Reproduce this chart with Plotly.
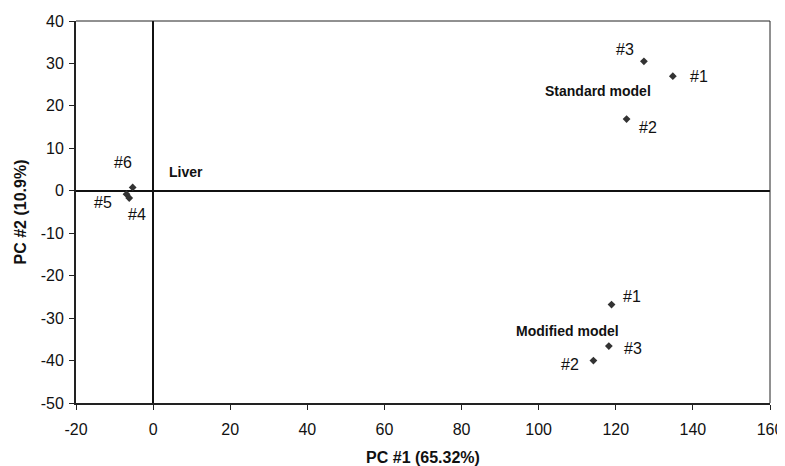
import plotly.graph_objects as go

# Data
std_x = [134.8, 122.8, 127.3]
std_y = [27.0, 16.9, 30.5]
std_lab = ["#1", "#2", "#3"]

mod_x = [118.9, 114.2, 118.2]
mod_y = [-26.8, -40.0, -36.6]
mod_lab = ["#1", "#2", "#3"]

liv_x = [-6.2, -6.9, -5.3]
liv_y = [-1.7, -0.8, 0.8]
liv_lab = ["#4", "#5", "#6"]

group_names = ["Standard model", "Modified model", "Liver"]
group_x = [115.4, 107.6, 8.5]
group_y = [23.5, -33.0, 4.4]

x_ticks = [-20, 0, 20, 40, 60, 80, 100, 120, 140, 160]
y_ticks = [-50, -40, -30, -20, -10, 0, 10, 20, 30, 40]

# label offsets in pixels (style)
std_off = [(26, 0), (21, -8), (-19, 12)]
mod_off = [(20, 8), (-23, -4), (24, -2)]
liv_off = [(8, -17), (-24, -8), (-10, 25)]

FONT = "Liberation Sans, Arial, sans-serif"
MC = "#333333"

fig = go.Figure()
for xs, ys in [(std_x, std_y), (mod_x, mod_y), (liv_x, liv_y)]:
    fig.add_trace(go.Scatter(x=xs, y=ys, mode="markers",
                             marker=dict(symbol="diamond", size=6, color=MC),
                             showlegend=False, hoverinfo="skip"))

annots = []
for xs, ys, labs, offs in [(std_x, std_y, std_lab, std_off),
                           (mod_x, mod_y, mod_lab, mod_off),
                           (liv_x, liv_y, liv_lab, liv_off)]:
    for x, y, t, (dx, dy) in zip(xs, ys, labs, offs):
        annots.append(dict(x=x, y=y, text=t, showarrow=False, xshift=dx, yshift=dy,
                           font=dict(family=FONT, size=16, color="#111")))
for t, x, y in zip(group_names, group_x, group_y):
    annots.append(dict(x=x, y=y, text="<b>" + t + "</b>", showarrow=False,
                       font=dict(family=FONT, size=14, color="#111")))

fig.update_layout(
    width=777, height=458,
    margin=dict(l=68, r=15, t=13, b=63),
    paper_bgcolor="white", plot_bgcolor="white",
    font=dict(family=FONT, size=16, color="#111"),
    annotations=annots,
    shapes=[
        dict(type="line", xref="paper", yref="paper", x0=0, x1=1, y0=1, y1=1,
             line=dict(color="#222", width=1)),
        dict(type="line", xref="paper", yref="paper", x0=1, x1=1, y0=0, y1=1,
             line=dict(color="#222", width=1)),
    ],
)
fig.update_xaxes(range=[-20, 160], tickvals=x_ticks, ticktext=[str(v) for v in x_ticks],
                 automargin=False,
                 showgrid=False, zeroline=True, zerolinecolor="#111", zerolinewidth=1.5,
                 showline=True, linecolor="#222", linewidth=2,
                 ticks="outside", ticklen=5, tickcolor="#222", ticklabelstandoff=6,
                 tickfont=dict(family=FONT, size=16, color="#111"),
                 title=dict(text="<b>PC #1 (65.32%)</b>", standoff=24,
                            font=dict(family=FONT, size=16, color="#111")))
fig.update_yaxes(range=[-50, 40], tickvals=y_ticks, ticktext=[str(v) for v in y_ticks],
                 automargin=False,
                 showgrid=False, zeroline=True, zerolinecolor="#111", zerolinewidth=1.5,
                 showline=True, linecolor="#222", linewidth=2,
                 ticks="outside", ticklen=5, tickcolor="#222", ticklabelstandoff=2,
                 tickfont=dict(family=FONT, size=16, color="#111"),
                 title=dict(text="<b>PC #2 (10.9%)</b>", standoff=10,
                            font=dict(family=FONT, size=16, color="#111")))

fig.write_html("out.html")
